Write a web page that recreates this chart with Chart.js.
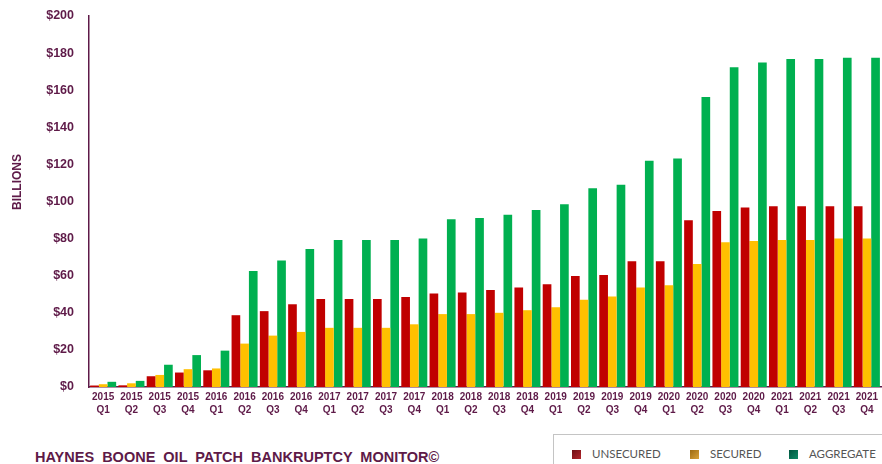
<!DOCTYPE html>
<html>
<head>
<meta charset="utf-8">
<script src="https://cdn.jsdelivr.net/npm/chart.js@4"></script>
<style>
  body { margin: 0; background: #fff; width: 882px; height: 464px; overflow: hidden; position: relative; font-family: "Liberation Sans", Arial, sans-serif; }
  #wrap { position: absolute; left: 0; top: 0; width: 882px; height: 425px; }
  #title { position: absolute; left: 35px; top: 449px; font-weight: bold; font-size: 14.5px; color: #5e1a48; word-spacing: 4px; white-space: nowrap; }
  #ytitle { position: absolute; left: -33px; top: 174px; width: 100px; height: 16px; line-height: 16px; text-align: center; transform: rotate(-90deg); font-weight: bold; font-size: 12px; color: #5e1a48; }
  #legend { position: absolute; left: 553px; top: 434px; width: 340px; height: 40px; border: 1px solid #c4c4c4; box-sizing: border-box; }
  .item { position: absolute; top: 12px; font-family: Lato, "Open Sans", sans-serif; font-size: 11.5px; color: #555; white-space: nowrap; }
  .item span { display: inline-block; width: 9px; height: 9px; margin-right: 11px; vertical-align: -1px; }
</style>
</head>
<body>
<div id="wrap"><canvas id="chart"></canvas></div>
<div id="ytitle">BILLIONS</div>
<div id="title">HAYNES BOONE OIL PATCH BANKRUPTCY MONITOR©</div>
<div id="legend"></div>
<script>
const quarters = [
  ["2015","Q1"],["2015","Q2"],["2015","Q3"],["2015","Q4"],
  ["2016","Q1"],["2016","Q2"],["2016","Q3"],["2016","Q4"],
  ["2017","Q1"],["2017","Q2"],["2017","Q3"],["2017","Q4"],
  ["2018","Q1"],["2018","Q2"],["2018","Q3"],["2018","Q4"],
  ["2019","Q1"],["2019","Q2"],["2019","Q3"],["2019","Q4"],
  ["2020","Q1"],["2020","Q2"],["2020","Q3"],["2020","Q4"],
  ["2021","Q1"],["2021","Q2"],["2021","Q3"],["2021","Q4"]
]
const unsecured = [0.8, 0.9, 5.8, 7.8, 9.0, 38.7, 40.9, 44.6, 47.4, 47.4, 47.4, 48.5, 50.4, 51.0, 52.3, 53.6, 55.4, 59.8, 60.4, 67.8, 67.8, 89.9, 94.9, 96.8, 97.5, 97.5, 97.5, 97.5]
const secured = [1.5, 2.0, 6.5, 9.6, 10.0, 23.4, 27.7, 29.7, 31.9, 31.9, 31.9, 33.8, 39.3, 39.3, 40.0, 41.4, 43.0, 47.0, 48.8, 53.6, 54.9, 66.3, 78.0, 78.7, 79.2, 79.2, 80.0, 80.0]
const aggregate = [2.8, 3.3, 12.0, 17.2, 19.6, 62.5, 68.2, 74.4, 79.2, 79.2, 79.2, 80.0, 90.4, 91.1, 92.9, 95.4, 98.5, 107.2, 109.0, 122.0, 123.2, 156.4, 172.4, 175.0, 176.8, 176.8, 177.5, 177.5]
const yTicks = [0, 20, 40, 60, 80, 100, 120, 140, 160, 180, 200]

const seriesNames = ["UNSECURED", "SECURED", "AGGREGATE"]
const barColors = ["#c00000", "#ffc000", "#00b050"]
const legendColors = [
  "linear-gradient(135deg, #6e0f14, #b3262c)",
  "linear-gradient(135deg, #9c6a12, #d9a33a)",
  "linear-gradient(135deg, #00563f, #0f8a66)"
]
const purple = "#5e1a48"

const seriesData = [unsecured, secured, aggregate]

const datasets = seriesNames.map(function(name, i){
  return {
    label: name,
    data: seriesData[i],
    backgroundColor: barColors[i],
    borderWidth: 0,
    barPercentage: 1,
    categoryPercentage: 0.92
  }
})

const ctx = document.getElementById("chart").getContext("2d")

const myChart = new Chart(ctx, {
  type: "bar",
  data: { labels: quarters, datasets: datasets },
  options: {
    responsive: true,
    maintainAspectRatio: false,
    animation: false,
    layout: { padding: { top: 16, right: 0, left: 0, bottom: 0 } },
    plugins: { legend: { display: false }, tooltip: { enabled: false } },
    scales: {
      x: {
        grid: { display: false, drawTicks: false },
        border: { color: purple, width: 1.5 },
        ticks: {
          color: purple,
          font: { family: "'Liberation Sans', Arial", size: 10, weight: "bold", lineHeight: 1.3 },
          padding: 4,
          autoSkip: false,
          maxRotation: 0
        },
        afterFit: function(scale){ scale.height = 38 }
      },
      y: {
        min: 0,
        max: 200,
        afterBuildTicks: function(scale){ scale.ticks = yTicks.map(function(v){ return { value: v } }) },
        grid: { display: false, drawTicks: false },
        border: { color: purple, width: 1.5 },
        ticks: {
          color: purple,
          font: { family: "'Liberation Sans', Arial", size: 12.5, weight: "bold" },
          padding: 15,
          callback: function(v){ return "$" + v }
        },
        afterFit: function(scale){
          scale.width = 89
          scale.paddingTop = 0
          scale.paddingBottom = 0
        }
      }
    }
  }
})

// legend built from the same series names
const legendLeft = [18, 136, 235]
const $legend = document.getElementById("legend")
seriesNames.forEach(function(name, i){
  const item = document.createElement("div")
  item.className = "item"
  item.style.left = legendLeft[i] + "px"
  item.innerHTML = `<span style="background:${legendColors[i]}"></span>${name}`
  $legend.appendChild(item)
})
</script>
</body>
</html>
